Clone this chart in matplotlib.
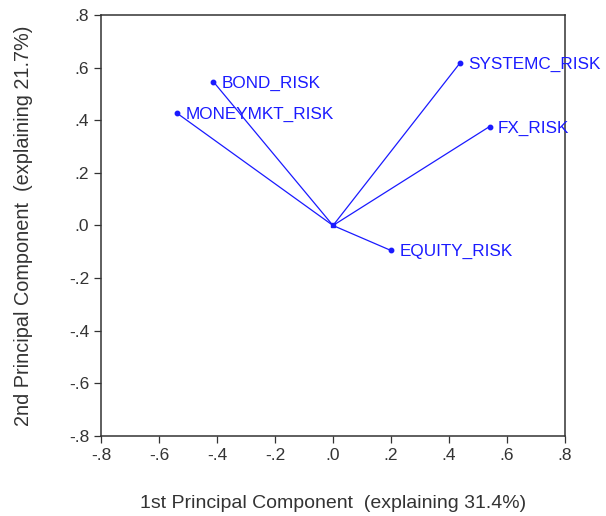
import matplotlib
matplotlib.use("Agg")
import matplotlib.pyplot as plt

names = ["SYSTEMC_RISK", "FX_RISK", "BOND_RISK", "MONEYMKT_RISK", "EQUITY_RISK"]
pc1 = [0.437, 0.540, -0.413, -0.537, 0.200]
pc2 = [0.616, 0.376, 0.547, 0.426, -0.095]
ticks = [-0.8, -0.6, -0.4, -0.2, 0.0, 0.2, 0.4, 0.6, 0.8]
tick_labels = ["-.8", "-.6", "-.4", "-.2", ".0", ".2", ".4", ".6", ".8"]

plt.rcParams["font.family"] = ["Liberation Sans", "DejaVu Sans"]
blue = "#1a1aff"
grey = "#333333"

fig = plt.figure(figsize=(6.06, 5.16), dpi=100)
ax = fig.add_axes([0.1667, 0.155, 0.7656, 0.816])

for x, y, name in zip(pc1, pc2, names):
    ax.plot([0, x], [0, y], color=blue, lw=0.9)
    ax.plot(x, y, "o", color=blue, ms=3.2)
    ax.annotate(name, (x, y), xytext=(6, -1), textcoords="offset points",
                va="center", ha="left", color=blue, fontsize=12.3,
                annotation_clip=False)
ax.plot(0, 0, "s", color=blue, ms=3)

ax.set_xlim(-0.8, 0.8)
ax.set_ylim(-0.8, 0.8)
ax.set_xticks(ticks)
ax.set_xticklabels(tick_labels)
ax.set_yticks(ticks)
ax.set_yticklabels(tick_labels)
ax.tick_params(direction="out", length=5, width=0.9, labelsize=12.5,
               labelcolor=grey, colors=grey, top=False, right=False)
for s in ax.spines.values():
    s.set_color(grey)
    s.set_linewidth(1.1)

ax.set_xlabel("1st Principal Component  (explaining 31.4%)", fontsize=14,
              color=grey, labelpad=23)
ax.set_ylabel("2nd Principal Component  (explaining 21.7%)", fontsize=14.3,
              color=grey, labelpad=26)

fig.savefig("out.png", dpi=100)
